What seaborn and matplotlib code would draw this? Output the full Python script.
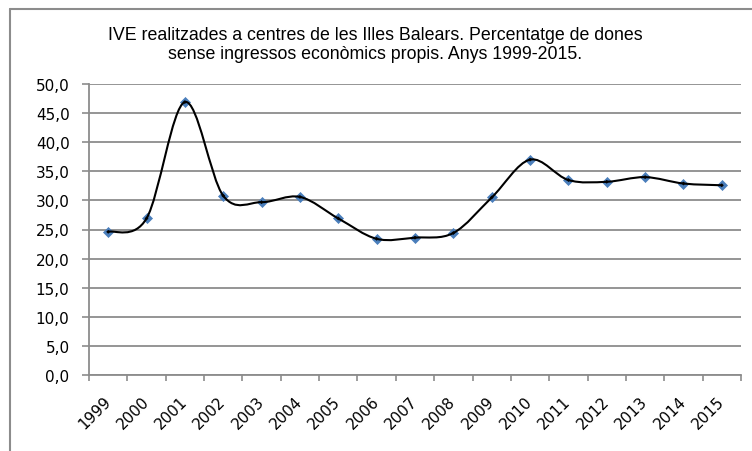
import numpy as np
import pandas as pd
import matplotlib
matplotlib.use("Agg")
import matplotlib.pyplot as plt
from matplotlib.path import Path
from matplotlib.patches import PathPatch
from matplotlib.lines import Line2D
import seaborn as sns

# IVE a les Illes Balears: % de dones sense ingressos propis
years = ["1999", "2000", "2001", "2002", "2003", "2004", "2005", "2006", "2007",
         "2008", "2009", "2010", "2011", "2012", "2013", "2014", "2015"]
pct = [24.6, 26.9, 46.9, 30.8, 29.7, 30.6, 26.9, 23.4, 23.6,
       24.4, 30.5, 37.0, 33.5, 33.2, 34.0, 32.9, 32.6]
ytick_vals = [0, 5, 10, 15, 20, 25, 30, 35, 40, 45, 50]
ytick_labels = ["0,0", "5,0", "10,0", "15,0", "20,0", "25,0", "30,0", "35,0", "40,0", "45,0", "50,0"]
title = ("IVE realitzades a centres de les Illes Balears. Percentatge de dones\n"
         "sense ingressos econòmics propis. Anys 1999-2015.")

df = pd.DataFrame({"any": years, "pct": pct})
df["pos"] = np.arange(len(df))

sns.set_theme(style="white")
plt.rcParams["font.family"] = ["DejaVu Sans"]

grey = "#8c8c8c"
fig = plt.figure(figsize=(7.52, 4.52), dpi=100)
ax = fig.add_axes([89 / 752, 76 / 452, 652 / 752, 291 / 452])

# smoothed line (Catmull-Rom as cubic bezier, like Excel's smoothed line)
pts = df[["pos", "pct"]].to_numpy(dtype=float)
verts = [tuple(pts[0])]
codes = [Path.MOVETO]
n = len(pts)
for i in range(n - 1):
    p0 = pts[max(i - 1, 0)]
    p1 = pts[i]
    p2 = pts[i + 1]
    p3 = pts[min(i + 2, n - 1)]
    c1 = p1 + (p2 - p0) / 6.0
    c2 = p2 - (p3 - p1) / 6.0
    verts += [tuple(c1), tuple(c2), tuple(p2)]
    codes += [Path.CURVE4] * 3
ax.add_patch(PathPatch(Path(verts, codes), facecolor="none", edgecolor="black",
                       lw=1.5, zorder=4))

sns.scatterplot(data=df, x="pos", y="pct", marker="D", s=26, color="#4a7ebb",
                edgecolor="#4a7ebb", linewidth=0.5, zorder=3, ax=ax, legend=False)
sns.scatterplot(data=df, x="pos", y="pct", marker="D", s=4, color="black",
                edgecolor="none", zorder=5, ax=ax, legend=False)

ax.set_xlim(-0.5, len(years) - 0.5)
ax.set_ylim(0, 50)
ax.set_xlabel("")
ax.set_ylabel("")

ax.set_yticks(ytick_vals)
ax.set_yticklabels(ytick_labels)
ax.yaxis.grid(True, color=grey, lw=1.3)
ax.set_axisbelow(True)
ax.tick_params(axis="y", which="major", left=True, length=5, width=1.2, color=grey,
               pad=9, labelsize=11, labelcolor="black")

ax.set_xticks(df["pos"])
ax.set_xticklabels(years, rotation=45, ha="right", va="center", rotation_mode="anchor")
ax.set_xticks(np.arange(len(years) + 1) - 0.5, minor=True)
ax.tick_params(axis="x", which="major", bottom=True, length=0, pad=17, labelsize=11,
               labelcolor="black")
ax.tick_params(axis="x", which="minor", bottom=True, length=4, width=1.2, color=grey)

for side in ["top", "right"]:
    ax.spines[side].set_visible(False)
for side in ["left", "bottom"]:
    ax.spines[side].set_color(grey)
    ax.spines[side].set_linewidth(1.3)

# chart area border (cut at the right and bottom edges)
fig.add_artist(Line2D([10 / 752, 10 / 752], [0, 1 - 10 / 452], color=grey, lw=1.5))
fig.add_artist(Line2D([10 / 752, 1], [1 - 10 / 452, 1 - 10 / 452], color=grey, lw=1.5))

fig.text(0.499, 1 - 27 / 452, title, ha="center", va="top", fontsize=12.8,
         family="Liberation Sans", linespacing=1.12, color="black")

fig.savefig("out.png", dpi=100, facecolor="white")
